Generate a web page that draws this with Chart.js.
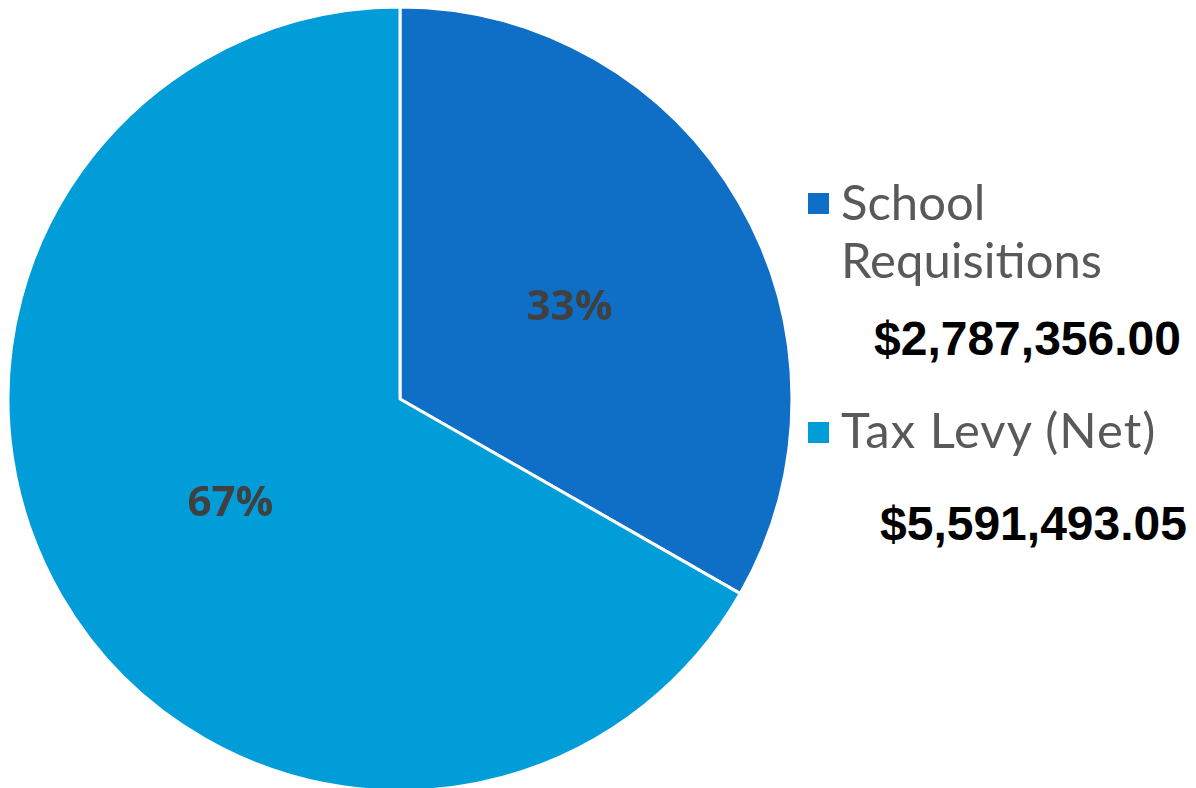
<!DOCTYPE html>
<html><head><meta charset="utf-8">
<script src="https://cdn.jsdelivr.net/npm/chart.js@4"></script>
<style>
html,body{margin:0;padding:0;background:#fff;width:1196px;height:788px;overflow:hidden;position:relative}
#wrap{position:absolute;left:0;top:0;width:800px;height:800px}
.leg{position:absolute;font-family:Lato,sans-serif;color:#595959;font-size:49px;line-height:58px;white-space:nowrap}
.sq{position:absolute;width:21px;height:21px}
.val{position:absolute;font-family:"Liberation Sans",sans-serif;font-weight:bold;color:#000;font-size:48px;line-height:56px;white-space:nowrap}
</style></head><body>
<div id="wrap"><canvas id="c"></canvas></div>
<div class="sq" id="sq0" style="left:808px;top:193px"></div>
<div class="leg" id="l0" style="left:841px;top:172px">School<br>Requisitions</div>
<div class="val" id="v0" style="left:874px;top:311px"></div>
<div class="sq" id="sq1" style="left:808px;top:422px"></div>
<div class="leg" id="l1" style="left:841px;top:400px;letter-spacing:1px">Tax Levy (Net)</div>
<div class="val" id="v1" style="left:880px;top:496px"></div>
<script>
const categories = ["School Requisitions", "Tax Levy (Net)"];
const values = [2787356.00, 5591493.05];
const valueLabels = ["$2,787,356.00", "$5,591,493.05"];
const colors = ["#0F6FC6", "#009DD9"];

document.getElementById('sq0').style.background = colors[0];
document.getElementById('sq1').style.background = colors[1];
document.getElementById('v0').textContent = valueLabels[0];
document.getElementById('v1').textContent = valueLabels[1];

const pctPlugin = {
  id: 'pct',
  afterDatasetsDraw(chart) {
    const ctx = chart.ctx;
    const meta = chart.getDatasetMeta(0);
    const data = chart.data.datasets[0].data;
    const total = data.reduce((a, b) => a + b, 0);
    ctx.save();
    ctx.font = 'bold 42px "Open Sans", sans-serif';
    ctx.fillStyle = '#404040';
    ctx.textAlign = 'center';
    ctx.textBaseline = 'middle';
    meta.data.forEach((arc, i) => {
      const p = arc.tooltipPosition();
      ctx.fillText(Math.round(data[i] / total * 100) + '%', p.x, p.y + 7);
    });
    ctx.restore();
  }
};

new Chart(document.getElementById('c'), {
  type: 'pie',
  data: {
    labels: categories,
    datasets: [{ data: values, backgroundColor: colors, borderColor: '#fff', borderWidth: 3, radius: 392 }]
  },
  options: {
    responsive: true,
    maintainAspectRatio: false,
    animation: false,
    layout: { padding: { top: 7, left: 8, right: 8, bottom: 9 } },
    plugins: { legend: { display: false }, tooltip: { enabled: false } }
  },
  plugins: [pctPlugin]
});
</script>
</body></html>
